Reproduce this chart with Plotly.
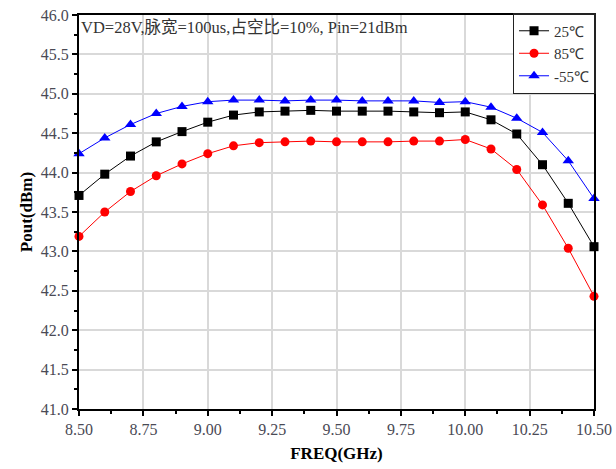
import plotly.graph_objects as go

freq = [8.5, 8.6, 8.7, 8.8, 8.9, 9.0, 9.1, 9.2, 9.3, 9.4, 9.5, 9.6, 9.7, 9.8, 9.9, 10.0, 10.1, 10.2, 10.3, 10.4, 10.5]
p25 = [43.71, 43.98, 44.21, 44.39, 44.52, 44.64, 44.73, 44.77, 44.78, 44.79, 44.78, 44.78, 44.78, 44.77, 44.76, 44.77, 44.67, 44.49, 44.10, 43.61, 43.06]
p85 = [43.19, 43.50, 43.76, 43.96, 44.11, 44.24, 44.34, 44.38, 44.39, 44.40, 44.39, 44.39, 44.39, 44.40, 44.40, 44.42, 44.30, 44.04, 43.59, 43.04, 42.43]
pm55 = [44.24, 44.44, 44.61, 44.75, 44.84, 44.90, 44.92, 44.92, 44.91, 44.92, 44.92, 44.91, 44.91, 44.91, 44.89, 44.90, 44.83, 44.69, 44.51, 44.15, 43.67]
series_names = ["25℃", "85℃", "-55℃"]
colors = ["black", "#ff0000", "#0000ff"]
symbols = ["square", "circle", "triangle-up"]
x_ticks = [8.5, 8.75, 9.0, 9.25, 9.5, 9.75, 10.0, 10.25, 10.5]
x_labels = ["8.50", "8.75", "9.00", "9.25", "9.50", "9.75", "10.00", "10.25", "10.50"]
y_ticks = [41.0, 41.5, 42.0, 42.5, 43.0, 43.5, 44.0, 44.5, 45.0, 45.5, 46.0]
y_labels = ["41.0", "41.5", "42.0", "42.5", "43.0", "43.5", "44.0", "44.5", "45.0", "45.5", "46.0"]

fig = go.Figure()
for name, ys, c, s in zip(series_names, [p25, p85, pm55], colors, symbols):
    fig.add_trace(go.Scatter(
        x=freq, y=ys, name=name, mode="lines+markers",
        line=dict(color=c, width=1),
        marker=dict(symbol=s, size=9 if s != "triangle-up" else 10, color=c),
        cliponaxis=False,
    ))

tick_font = dict(family="Liberation Serif, DejaVu Serif, serif", size=16, color="#4a4a55")
fig.update_layout(
    width=616, height=469,
    margin=dict(l=79, r=22, t=15, b=60),
    paper_bgcolor="white", plot_bgcolor="white",
    showlegend=True,
    legend=dict(
        x=1.003, y=1.005, xanchor="right", yanchor="top",
        bordercolor="#222222", borderwidth=1.5, bgcolor="white",
        font=dict(family="Liberation Serif, serif", size=15, color="#333333"),
        tracegroupgap=0, itemsizing="trace", itemwidth=30,
    ),
    xaxis=dict(
        range=[8.5, 10.5], tickvals=x_ticks, ticktext=x_labels,
        automargin=False,
        showgrid=True, gridcolor="#d9d9d9", gridwidth=1.5,
        showline=True, linecolor="black", linewidth=2, mirror=True,
        ticks="outside", ticklen=5, tickcolor="black", tickwidth=1.5,
        minor=dict(tickvals=[8.625, 8.875, 9.125, 9.375, 9.625, 9.875, 10.125, 10.375], ticks="outside", ticklen=3, tickcolor="black", showgrid=False),
        tickfont=tick_font, zeroline=False,
        title=dict(text="<b>FREQ(GHz)</b>", font=dict(family="Liberation Serif, serif", size=17, color="black"), standoff=10),
    ),
    yaxis=dict(
        range=[41.0, 46.0], tickvals=y_ticks, ticktext=y_labels,
        automargin=False,
        showgrid=True, gridcolor="#d9d9d9", gridwidth=1.5,
        showline=True, linecolor="black", linewidth=2, mirror=True,
        ticks="outside", ticklen=5, tickcolor="black", tickwidth=1.5,
        minor=dict(tickvals=[41.25, 41.75, 42.25, 42.75, 43.25, 43.75, 44.25, 44.75, 45.25, 45.75], ticks="outside", ticklen=3, tickcolor="black", showgrid=False),
        tickfont=tick_font, zeroline=False,
        title=dict(text="<b>Pout(dBm)</b>", font=dict(family="Liberation Serif, serif", size=17, color="black"), standoff=4),
    ),
)
fig.add_annotation(
    x=0, y=1, xref="paper", yref="paper", xanchor="left", yanchor="top",
    text="VD=28V,脉宽=100us,占空比=10%, Pin=21dBm", showarrow=False,
    font=dict(family="Liberation Serif, Noto Sans CJK SC, serif", size=16.5, color="#333333"),
    xshift=0, yshift=-1,
)
fig.write_html("out.html", config={"displayModeBar": False},
               post_script="document.body.style.margin='0';document.body.style.overflow='hidden';")
